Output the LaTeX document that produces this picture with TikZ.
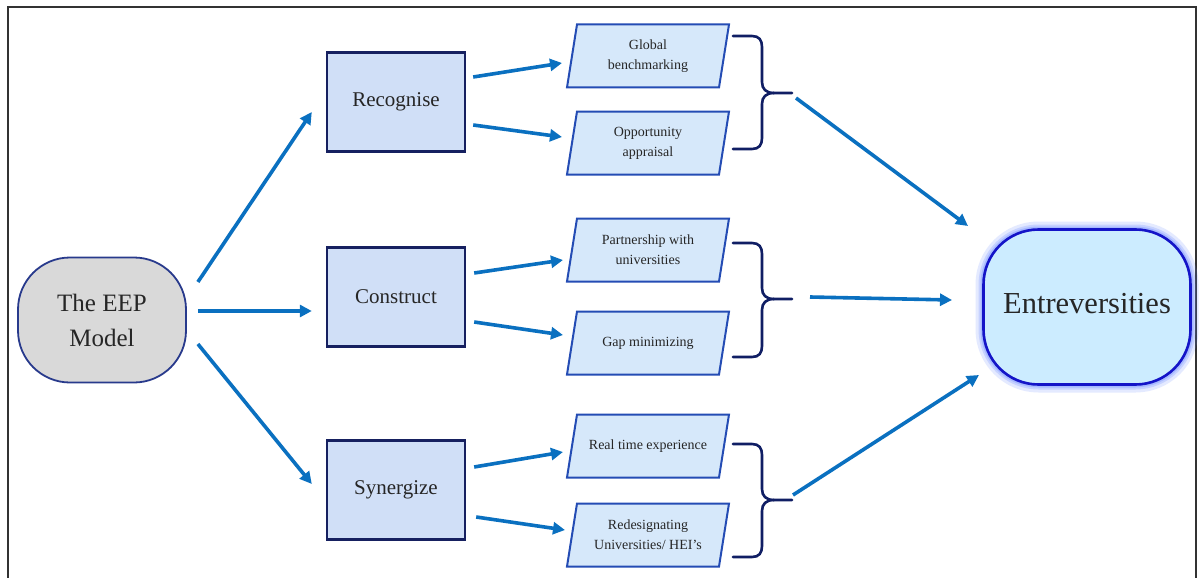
\documentclass[tikz,border=0pt]{standalone}
\usepackage{fontspec}
\setmainfont{Liberation Serif}
\usetikzlibrary{arrows.meta,calc}
\definecolor{arrowblue}{RGB}{10,112,192}
\definecolor{boxfill}{RGB}{208,223,247}
\definecolor{boxline}{RGB}{22,32,96}
\definecolor{parafill}{RGB}{214,232,250}
\definecolor{paraline}{RGB}{36,76,180}
\definecolor{bracec}{RGB}{16,30,100}
\definecolor{eepfill}{RGB}{217,217,217}
\definecolor{eepline}{RGB}{40,58,140}
\definecolor{entfill}{RGB}{204,236,255}
\definecolor{entline}{RGB}{20,20,200}
\definecolor{glowc}{RGB}{110,140,255}
\definecolor{framec}{RGB}{50,50,50}
\tikzset{
  arr/.style={draw=arrowblue, line width=3.6pt, -{Triangle[length=12pt,width=12pt]}},
  stagebox/.style={draw=boxline, fill=boxfill, line width=2.4pt, minimum width=138pt, minimum height=99pt, inner sep=0pt, font=\fontsize{21}{25}\selectfont, text=black!85},
  paratext/.style={draw=none, minimum width=150pt, minimum height=63pt, inner sep=0pt, align=center, font=\fontsize{14}{20}\selectfont, text=black!85},
  parashape/.style={draw=paraline, fill=parafill, line width=2pt, line join=miter},
  bracestyle/.style={draw=bracec, line width=2.6pt, line cap=round},
  eepbox/.style={draw=eepline, fill=eepfill, line width=1.8pt, rounded corners=52pt, minimum width=168pt, minimum height=125pt, inner sep=0pt, align=center, font=\fontsize{25}{35}\selectfont, text=black!85},
  entbox/.style={draw=entline, fill=entfill, line width=2.6pt, rounded corners=55pt, minimum width=207pt, minimum height=155pt, inner sep=0pt, font=\fontsize{30.5}{36}\selectfont, text=black!85,
    preaction={draw=glowc, draw opacity=0.18, line width=16pt},
    preaction={draw=glowc, draw opacity=0.25, line width=10pt},
    preaction={draw=glowc, draw opacity=0.35, line width=6pt}},
  framestyle/.style={draw=framec, line width=1.6pt}
}
\newcommand\parabox[3]{%
  \path[parashape] ($(#1)+(-81,31.5)$) -- ($(#1)+(-71,-31.5)$) -- ($(#1)+(81,-31.5)$) -- ($(#1)+(71,31.5)$) -- cycle;
  \node[paratext] (#2) at (#1) {#3};}
\newcommand\bracedraw[4]{% top y, tip y, bottom y, name
  \draw[bracestyle] (733,#1) -- (752,#1) .. controls (759,#1) and (762,#1+4) .. (762,#1+11)
    -- (762,#2-11) .. controls (762,#2-4) and (766,#2) .. (774,#2) -- (792,#2);
  \draw[bracestyle] (774,#2) .. controls (766,#2) and (762,#2+4) .. (762,#2+11)
    -- (762,#3-11) .. controls (762,#3-4) and (759,#3) .. (752,#3) -- (733,#3);
  \coordinate (#4) at (792,#2);}
\begin{document}
\begin{tikzpicture}[x=1pt,y=-1pt]
\useasboundingbox (0,0) rectangle (1203,578);
\fill[white] (0,0) rectangle (1203,578);
\draw[framestyle] (8,578) -- (8,7) -- (1196,7) -- (1196,578);

% main nodes
\node[eepbox] (eep) at (102,320) {The EEP\\Model};
\node[stagebox] (rec) at (396,102) {Recognise};
\node[stagebox] (con) at (396,297) {Construct};
\node[stagebox] (syn) at (396,490) {Synergize};
\node[entbox] (ent) at (1087,307) {\raisebox{7pt}{Entreversities}};

% parallelograms
\parabox{648,56}{glob}{Global\\benchmarking}
\parabox{648,143}{opp}{Opportunity\\appraisal}
\parabox{648,250}{part}{Partnership with\\universities}
\parabox{648,343}{gap}{Gap minimizing}
\parabox{648,446}{real}{Real time experience}
\parabox{648,535}{redes}{Redesignating\\Universities/ HEI’s}

% braces
\bracedraw{36}{93}{149}{b1}
\bracedraw{243}{299}{357}{b2}
\bracedraw{444}{500}{557}{b3}

% arrows from EEP
\draw[arr] ($(eep.east)+(11,-38)$) -- ($(rec.west)+(-14,10)$);
\draw[arr] ($(eep.east)+(11,-9)$) -- ($(con.west)+(-14,14)$);
\draw[arr] ($(eep.east)+(11,24)$) -- ($(syn.west)+(-14,-6)$);

% arrows to parallelograms
\draw[arr] ($(rec.east)+(7,-25)$) -- ($(glob)+(-86,7)$);
\draw[arr] ($(rec.east)+(7,23)$) -- ($(opp)+(-86,-6)$);
\draw[arr] ($(con.east)+(8,-24)$) -- ($(part)+(-85,10)$);
\draw[arr] ($(con.east)+(8,25)$) -- ($(gap)+(-85,-8)$);
\draw[arr] ($(syn.east)+(8,-23)$) -- ($(real)+(-85,6)$);
\draw[arr] ($(syn.east)+(10,27)$) -- ($(redes)+(-83,-5)$);

% arrows to Entreversities
\draw[arr] ($(b1)+(4,5)$) -- ($(ent)+(-119,-81)$);
\draw[arr] ($(b2)+(18,-2)$) -- ($(ent)+(-135,-7)$);
\draw[arr] ($(b3)+(1,-5)$) -- ($(ent)+(-108,68)$);
\end{tikzpicture}
\end{document}
